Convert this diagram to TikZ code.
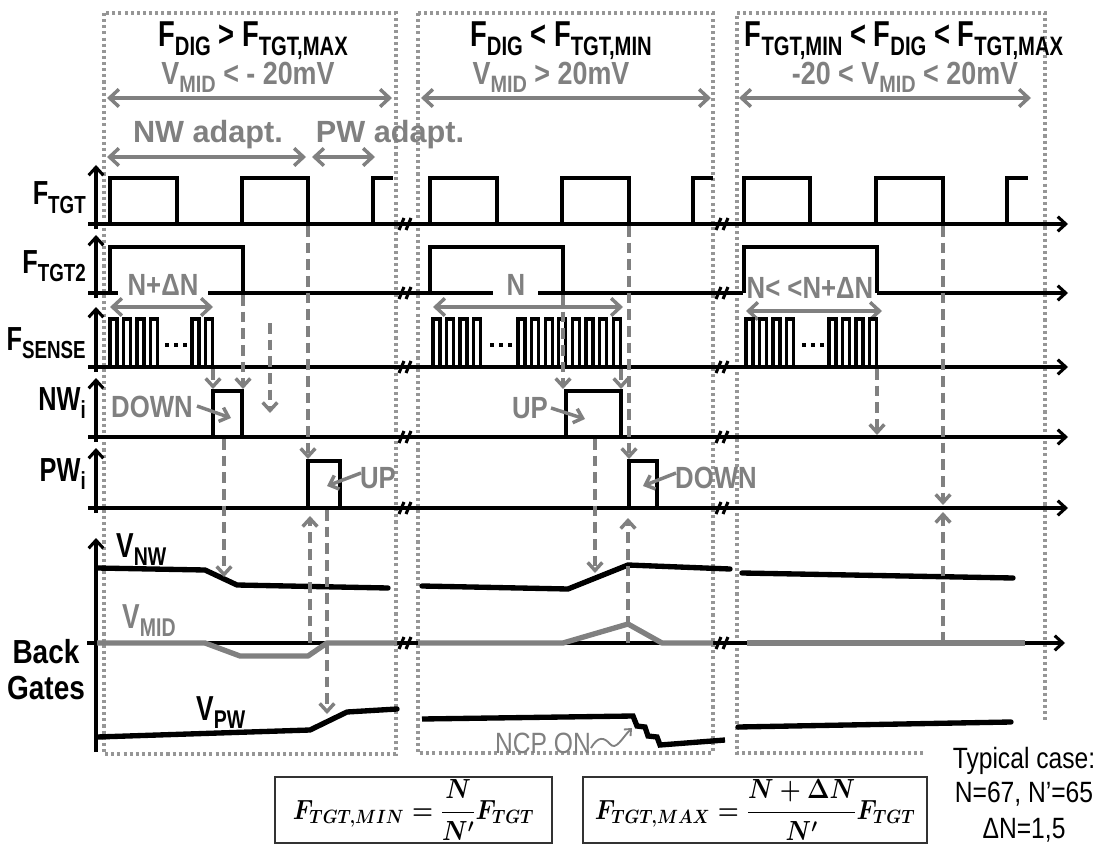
\documentclass[tikz,border=0pt]{standalone}
\usepackage{amsmath}
\usepackage{fontspec}
\setmainfont{Liberation Sans}
\newfontfamily\nar{Liberation Sans}[FakeStretch=0.84]
\newfontfamily\nnar{Liberation Sans}[FakeStretch=0.76]
\newfontfamily\wid{Liberation Sans}
\usepackage{graphicx}
\usetikzlibrary{arrows.meta}
\definecolor{tg}{RGB}{128,128,128}
\definecolor{dotg}{RGB}{150,150,150}
\newcommand{\sbs}[1]{\raisebox{-0.25em}{\scalebox{0.74}{#1}}}
\newcommand{\fmlmin}{\scalebox{0.87}[1]{{\fontsize{20.74}{25}\selectfont\boldmath$\displaystyle F_{TGT,MIN}=\frac{N}{N^{\prime}}F_{TGT}$}}}
\newcommand{\fmlmax}{\scalebox{0.87}[1]{{\fontsize{20.74}{25}\selectfont\boldmath$\displaystyle F_{TGT,MAX}=\frac{N+\Delta N}{N^{\prime}}F_{TGT}$}}}
\begin{document}
\begin{tikzpicture}[x=0.75pt,y=-0.75pt,
  wave/.style={line width=2.3pt, line join=miter},
  ax/.style={line width=2.3pt},
  axa/.style={line width=2.3pt, -{Straight Barb[length=6pt,width=11pt]}},
  vline/.style={line width=4pt, line cap=round, line join=round},
  dotbox/.style={draw=dotg, line width=2.5pt, dash pattern=on 2.3pt off 2.3pt},
  garr/.style={draw=tg, line width=2.6pt, {Straight Barb[length=7pt,width=13pt]}-{Straight Barb[length=7pt,width=13pt]}},
  dar/.style={draw=tg, line width=2.6pt, dash pattern=on 8pt off 4.5pt, -{Straight Barb[length=6pt,width=11pt]}},
  larr/.style={draw=tg, line width=2.6pt, -{Straight Barb[length=6pt,width=11pt]}},
  brk/.style={line width=2.3pt},
  hdr/.style={font=\nnar\bfseries\fontsize{27}{31}\selectfont, anchor=base, inner sep=0pt},
  gtx/.style={text=tg, font=\nar\bfseries\fontsize{24}{28}\selectfont, anchor=base, inner sep=0pt},
  gad/.style={text=tg, font=\wid\bfseries\fontsize{23}{26}\selectfont, anchor=base, inner sep=0pt},
  lbl/.style={font=\nnar\bfseries\fontsize{25}{29}\selectfont, anchor=base east, inner sep=0pt},
  glbl/.style={text=tg, font=\nar\bfseries\fontsize{23}{27}\selectfont, anchor=base, inner sep=0pt},
  vlbl/.style={font=\nnar\bfseries\fontsize{26}{30}\selectfont, anchor=base west, inner sep=0pt},
  fmlbox/.style={draw=black!80, line width=1.2pt, minimum height=49.5pt, inner sep=0pt},
  typ/.style={font=\nar\fontsize{22}{26}\selectfont, anchor=base, inner sep=0pt}
]
\useasboundingbox (0,0) rectangle (1106,852);

% dotted phase boxes
\draw[dotbox] (104,13) rectangle (396,754);
\draw[dotbox] (418,13) rectangle (713,753);
\draw[dotbox] (923,753) -- (737,753) -- (737,13) -- (1045,13) -- (1045,720);

% headers
\node[hdr] (h1) at (253,47) {F\sbs{DIG} > F\sbs{TGT,MAX}};
\node[hdr] (h2) at (561,47) {F\sbs{DIG} < F\sbs{TGT,MIN}};
\node[hdr] (h3) at (904,47) {F\sbs{TGT,MIN} < F\sbs{DIG} < F\sbs{TGT,MAX}};
\node[gtx] (g1) at (248,85) {V\sbs{MID} < - 20mV};
\node[gtx] (g2) at (551,85) {V\sbs{MID} > 20mV};
\node[gtx] (g3) at (905,85) {-20 < V\sbs{MID} < 20mV};
\draw[garr] (107,98) -- (392,98);
\draw[garr] (421,98) -- (711,98);
\draw[garr] (739,98) -- (1031,98);
\node[gad] (nwa) at (208,143) {NW adapt.};
\node[gad] (pwa) at (390,143) {PW adapt.};
\draw[garr] (107,157) -- (306,157);
\draw[garr] (312,157) -- (375,157);

% row labels
\node[lbl] (lft) at (86,205) {F\sbs{TGT}};
\node[lbl] (lft2) at (86,273) {F\sbs{TGT2}};
\node[lbl] (lfs) at (86,350) {F\sbs{SENSE}};
\node[lbl] (lnw) at (86,410) {NW\sbs{i}};
\node[lbl] (lpw) at (86,481) {PW\sbs{i}};
\node[font=\nar\bfseries\fontsize{25}{29}\selectfont, anchor=base, inner sep=0pt] (bk1) at (46,663) {Back};
\node[font=\nar\bfseries\fontsize{25}{29}\selectfont, anchor=base, inner sep=0pt] (bk2) at (46,699) {Gates};

% vertical axes
\draw[axa] (96,229) -- (96,165);
\draw[axa] (96,298) -- (96,235);
\draw[axa] (96,372) -- (96,307);
\draw[axa] (96,442) -- (96,378);
\draw[axa] (96,513) -- (96,448);
\draw[axa] (96,752) -- (96,538);

% baselines
\draw[axa] (88,224) -- (1068,224);
\draw[ax] (88,293) -- (118,293);
\draw[ax] (208,293) -- (493,293);
\draw[ax] (538,293) -- (743,293);
\draw[axa] (877,293) -- (1068,293);
\draw[axa] (88,367) -- (1068,367);
\draw[axa] (88,437) -- (1068,437);
\draw[axa] (88,508) -- (1068,508);
\draw[axa] (87,643) -- (1065,643);

% breaks
\foreach \yy in {224,293,367,437,508,643}
  \foreach \xx in {405,722}
    \draw[brk] (\xx-6,\yy+6) -- (\xx-1,\yy-6) (\xx+1,\yy+6) -- (\xx+6,\yy-6);

% F_TGT
\foreach \a/\b in {110/177,242/308,430/497,562/629,744/810,876/943}
  \draw[wave] (\a,224) -- (\a,178) -- (\b,178) -- (\b,224);
\foreach \a/\b in {373/393,693/713,1007/1028}
  \draw[wave] (\a,224) -- (\a,178) -- (\b,178);

% F_TGT2
\foreach \a/\b in {110/243,430/563,744/877}
  \draw[wave] (\a,293) -- (\a,247) -- (\b,247) -- (\b,293);
\node[glbl] (nd1) at (163,296) {N+ΔN};
\node[glbl] (nd2) at (516,296) {N};
\node[glbl] (nd3) at (810,298) {N< <N+ΔN};
\draw[garr] (110,307) -- (213,307);
\draw[garr] (433,307) -- (623,307);
\draw[garr] (746,311) -- (882,311);

% F_SENSE
\foreach \s in {110,123.5,137,150.5,192,205.5,433,446.5,460,473.5,518,531.6,545.2,558.8,572.4,586,599.6,613.2,746,759.5,773,786.5,829,842.5,856,869.5}
  \draw[wave] (\s,367) -- (\s,319) -- (\s+7,319) -- (\s+7,367);
\foreach \d in {167,176,185,492,501,510,804,813,822}
  \fill (\d-1.8,343.2) rectangle (\d+1.8,346.8);

% NW_i
\draw[wave] (213,437) -- (213,391) -- (242,391) -- (242,437);
\draw[wave] (566,437) -- (566,391) -- (621,391) -- (621,437);
% PW_i
\draw[wave] (308,508) -- (308,461) -- (340,461) -- (340,508);
\draw[wave] (629,508) -- (629,461) -- (657,461) -- (657,508);

% labels with arrows
\node[glbl] (dn1) at (152,417) {DOWN};
\draw[larr] (197,406) -- (231,418);
\node[glbl] (up1) at (530,418) {UP};
\draw[larr] (551,408) -- (585,419);
\node[glbl] (up2) at (378,488) {UP};
\draw[larr] (361,473) -- (327,486);
\node[glbl] (dn2) at (716,488) {DOWN};
\draw[larr] (676,473) -- (643,486);

% back gate waveforms
\draw[vline] (97,568) -- (205,570) -- (237,585) -- (388,588);
\draw[vline] (422,586) -- (568,589) -- (628,565) -- (730,569);
\draw[vline] (742,573) -- (1013,578);
\draw[vline, draw=tg, line cap=butt] (97,643) -- (205,643) -- (240,656) -- (308,656) -- (327,643) -- (397,643);
\draw[vline, draw=tg, line cap=butt] (418,643) -- (563,643) -- (628,624) -- (662,643) -- (713,643);
\draw[vline, draw=tg, line cap=butt] (747,643) -- (1025,643);
\draw[vline] (97,737) -- (310,730) -- (347,712) -- (397,709);
\draw[vline, line join=miter, line cap=butt] (422,719) -- (633,716) -- (637,726) -- (645,727) -- (648,736) -- (657,737) -- (660,745) -- (725,740);
\draw[vline] (738,727) -- (1011,722);

\node[vlbl] (vnw) at (116,557) {V\sbs{NW}};
\node[vlbl, text=tg] (vmid) at (122,628) {V\sbs{MID}};
\node[vlbl] (vpw) at (196,720) {V\sbs{PW}};

% NCP ON
\node[text=tg, font=\nar\fontsize{22}{24}\selectfont, anchor=base, inner sep=0pt] (ncp) at (543,753) {NCP ON};
\draw[draw=tg, line width=1.4pt, -{Straight Barb[length=4pt,width=7pt]}] (591,748) .. controls (598,736) and (604,737) .. (610,744) .. controls (616,751) and (622,738) .. (632,728);

% dashed causal arrows
\draw[dar] (213,369) -- (213,389);
\draw[dar] (243,295) -- (243,389);
\draw[dar] (270,323) -- (270,413);
\draw[dar] (308,226) -- (308,459);
\draw[dar] (224,439) -- (224,577);
\draw[dar] (327,510) -- (327,714);
\draw[dar] (310,643) -- (310,516);
\draw[dar] (563,295) -- (563,389);
\draw[dar] (621,369) -- (621,389);
\draw[dar] (629,226) -- (629,459);
\draw[dar] (595,439) -- (595,573);
\draw[dar] (628,643) -- (628,518);
\draw[dar] (877,369) -- (877,435);
\draw[dar] (943,226) -- (943,505);
\draw[dar] (943,643) -- (943,512);

% formula boxes
\node[fmlbox, minimum width=207.75pt] (fa) at (413.5,810) {\fmlmin};
\node[fmlbox, minimum width=258pt] (fb) at (755,810) {\fmlmax};

% typical case
\node[typ] (t1) at (1024,768) {Typical case:};
\node[typ] (t2) at (1024,802) {N=67, N’=65};
\node[typ] (t3) at (1024,838) {ΔN=1,5};
\end{tikzpicture}
\end{document}
